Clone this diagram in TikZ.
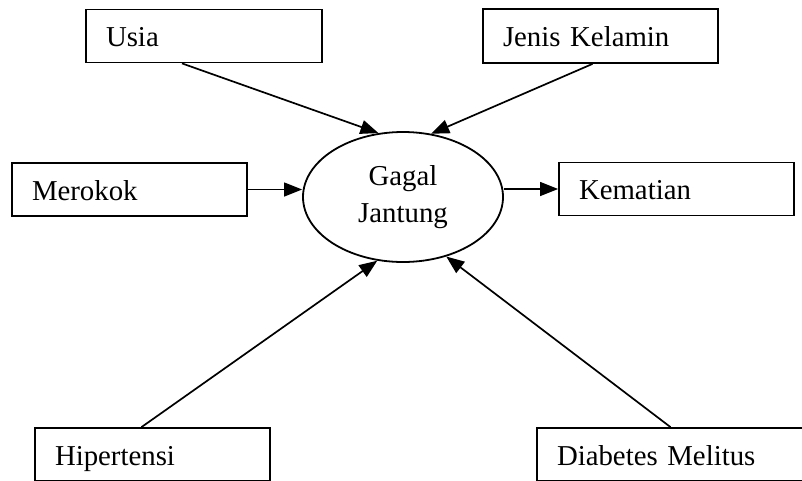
\documentclass[tikz,border=0pt]{standalone}
\usepackage{fontspec}
\setmainfont{Liberation Serif}
\usetikzlibrary{arrows.meta,shapes.geometric}
\begin{document}
\begin{tikzpicture}[x=1pt,y=-1pt,
  every node/.style={font=\fontsize{28.8}{36}\selectfont},
  box/.style={draw,line width=1.8pt,minimum height=53pt,inner xsep=20pt,inner ysep=2pt,text height=24pt,text depth=3pt,align=left},
  arr/.style={line width=1.7pt,-{Triangle[length=18pt,width=14pt]}},
  thinarr/.style={line width=1.2pt,-{Triangle[length=18pt,width=14pt]}}]
\clip (0,0) rectangle (802,480);
\fill[white] (0,0) rectangle (802,480);
\node[box,minimum width=236pt,text width=196pt] (usia) at (204,36) {Usia};
\node[box,minimum width=235pt,text width=195pt,minimum height=54pt] (jenis) at (600.5,36) {Jenis Kelamin};
\node[box,minimum width=235pt,text width=195pt] (merokok) at (129.5,189.5) {Merokok};
\node[box,minimum width=235pt,text width=195pt] (kematian) at (676.5,189) {Kematian};
\node[box,minimum width=235pt,text width=195pt] (hiper) at (152.5,454.5) {Hipertensi};
\node[box,minimum width=269pt,text width=229pt] (diab) at (671.5,454.5) {Diabetes Melitus};
\node[draw,ellipse,line width=1.8pt,minimum width=200pt,minimum height=130pt,inner sep=0pt,align=center,font=\fontsize{28.8}{37}\selectfont] (gj) at (403,197) {Gagal\\Jantung};
\draw[arr] ([xshift=-22pt]usia.south) -- (gj.111);
\draw[arr] ([xshift=-8pt]jenis.south) -- (gj.66);
\draw[thinarr] (merokok.east) -- (gj.west |- merokok.east);
\draw[thinarr] (gj.east |- kematian.west) -- (kematian.west);
\draw[arr] ([xshift=-11pt]hiper.north) -- (gj.248);
\draw[arr] ([xshift=-1pt]diab.north) -- (gj.306);
\end{tikzpicture}
\end{document}
